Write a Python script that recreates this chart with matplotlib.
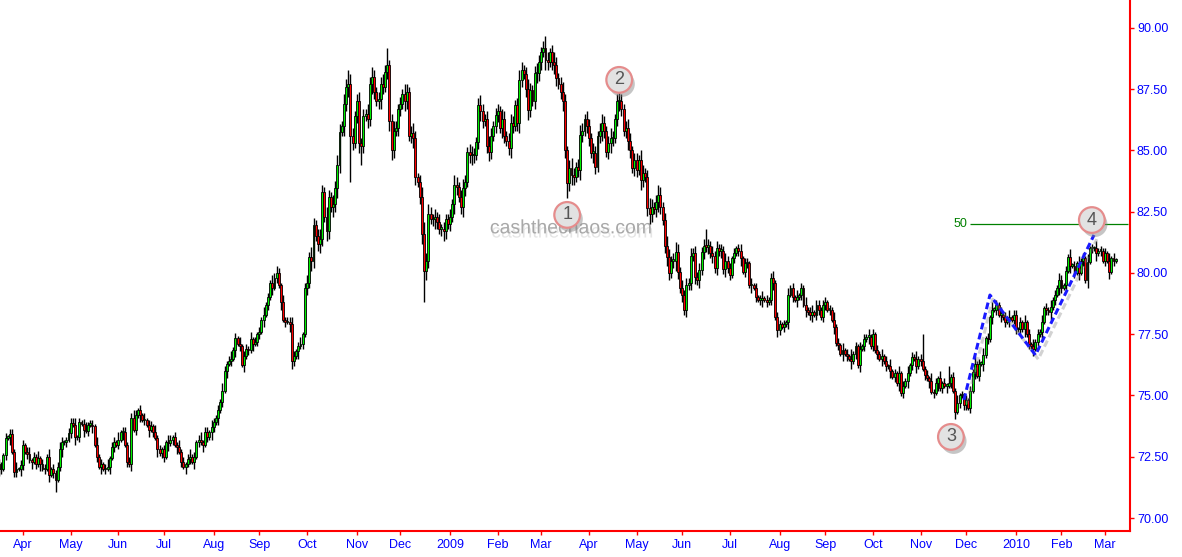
import matplotlib
matplotlib.use('Agg')
import matplotlib.pyplot as plt
import matplotlib.patheffects as pe
import numpy as np
import pandas as pd

# daily bars, US dollar index
start_date = '2008-03-17'
first_open = 72.2

closes = [
    # Mar 2008
    72.0, 72.0, 72.57, 73.27, 73.3, 73.43, 72.7, 71.88, 72.0, 72.0, 72.16,
    # Apr
    72.98, 72.7, 72.6, 72.36, 72.3, 72.5, 72.2, 72.45, 72.2, 72.0, 72.0,
    72.5, 71.76, 72.0, 71.85, 71.55, 72.1, 72.8, 73.1, 73.1, 73.2, 73.47,
    # May
    73.88, 73.8, 73.3, 73.3, 73.9, 73.85, 73.6, 73.55, 73.8, 73.8, 73.75,
    73.0, 72.5, 72.1, 72.2, 72.0, 72.0, 72.1, 72.45, 72.9, 73.1, 73.0,
    # Jun
    73.2, 73.5, 73.5, 73.0, 72.3, 72.2, 74.1, 73.6, 74.2, 74.4, 74.2,
    74.0, 74.0, 73.8, 73.6, 73.75, 73.5, 73.27, 72.8, 72.65, 72.8,
    # Jul
    72.5, 73.1, 73.05, 73.2, 73.3, 73.0, 72.9, 72.7, 72.3, 72.1, 72.2, 72.4,
    72.5, 72.3, 72.5, 73.1, 73.2, 73.1, 73.0, 73.5, 73.3, 73.5, 73.7,
    # Aug
    73.9, 74.1, 74.4, 74.75, 75.2, 76.0, 76.3, 76.4, 76.5, 76.86, 77.33,
    77.1, 77.0, 76.25, 76.6, 76.9, 76.85, 77.3, 77.1, 77.2, 77.5,
    # Sep
    77.6, 78.1, 78.3, 78.7, 79.0, 79.6, 79.4, 79.8, 80.0, 79.5, 78.8,
    78.1, 78.0, 78.0, 77.9, 76.4, 76.6, 76.8, 77.0, 77.1, 77.5, 79.4,
    # Oct
    79.6, 80.66, 80.5, 81.96, 81.5, 81.2, 81.4, 83.3, 82.3, 81.7, 83.1, 82.7,
    82.8, 83.45, 84.4, 85.77, 86.0, 86.9, 87.6, 87.7, 85.6, 85.3, 86.4,
    # Nov
    87.0, 85.3, 85.2, 86.4, 86.5, 86.3, 87.7, 88.0, 87.4, 87.0,
    87.1, 87.7, 87.6, 88.2, 88.5, 86.2, 85.0, 85.8, 85.9, 86.7,
    # Dec
    86.9, 87.3, 87.0, 87.4, 85.6, 85.7, 85.5, 83.9, 83.7, 83.1, 81.6, 80.1,
    80.5, 82.4, 82.2, 82.2, 82.3, 82.1, 81.8, 81.8, 81.7, 82.2, 82.0,
    # Jan 2009
    82.3, 82.8, 83.6, 83.5, 83.1, 82.7, 83.45, 83.7, 84.95, 84.8, 84.8,
    84.8, 85.36, 86.86, 86.6, 86.2, 86.3, 85.2, 84.95, 85.6, 86.0, 86.45,
    # Feb
    86.6, 85.9, 86.3, 85.6, 85.4, 85.1, 86.1, 86.0, 86.86, 86.1,
    87.88, 88.3, 88.1, 87.5, 86.65, 87.47, 87.0, 88.15, 88.15, 88.6,
    # Mar
    89.03, 89.17, 88.7, 88.6, 89.0, 88.6, 88.5, 87.95, 87.7, 87.4, 87.0,
    85.0, 83.66, 84.3, 84.0, 83.9, 84.34, 84.2, 85.63, 85.8, 86.3, 86.0,
    # Apr
    85.5, 84.9, 84.9, 84.34, 85.6, 85.8, 86.1, 85.8, 84.95, 85.3, 85.5,
    85.5, 86.3, 87.0, 87.0, 86.7, 85.8, 85.9, 85.4, 85.0, 84.27, 84.6,
    # May
    84.2, 84.6, 83.8, 84.1, 83.9, 82.64, 82.4, 82.7, 82.6, 82.9, 83.2,
    82.7, 82.16, 81.1, 80.67, 80.0, 80.5, 80.5, 80.87, 80.05, 79.4,
    # Jun
    79.1, 78.5, 79.5, 79.6, 80.7, 80.8, 79.85, 79.7, 80.12, 80.87, 81.1,
    81.07, 81.1, 80.8, 80.7, 80.2, 81.0, 80.9, 80.9, 80.15, 80.5, 80.2,
    # Jul
    79.9, 80.6, 80.8, 81.0, 80.9, 80.6, 80.05, 80.4, 80.4, 79.5, 79.5, 79.4,
    79.0, 78.9, 78.9, 78.95, 78.9, 78.8, 78.9, 79.78, 79.6, 78.2, 77.67,
    # Aug
    77.9, 77.8, 77.9, 78.0, 79.1, 79.4, 79.0, 78.9, 79.0, 79.1, 79.4,
    78.7, 78.5, 78.4, 78.3, 78.4, 78.3, 78.7, 78.5, 78.2, 78.7,
    # Sep
    78.8, 78.5, 78.5, 78.1, 77.8, 77.13, 77.05, 76.7, 76.85, 76.7, 76.6,
    76.5, 76.4, 76.7, 77.0, 76.24, 76.9, 77.0, 77.3, 77.4, 77.4, 77.0,
    # Oct
    77.5, 76.85, 76.7, 76.5, 76.6, 76.4, 76.2, 76.2, 76.0, 75.77, 75.9,
    75.5, 75.9, 75.09, 75.4, 75.6, 75.9, 76.24, 76.58, 76.5, 76.2, 76.5,
    # Nov
    76.4, 76.1, 75.84, 75.7, 75.6, 75.16, 75.1, 75.5, 75.7, 75.3, 75.5,
    75.4, 75.4, 75.5, 75.77, 75.2, 74.34, 74.7, 75.0, 75.0, 74.6,
    # Dec
    74.8, 74.5, 75.2, 75.97, 76.3, 75.8, 76.3, 76.3, 76.65, 77.33, 77.3, 78.2,
    78.5, 78.5, 78.7, 78.3, 78.3, 78.2, 78.0, 78.1, 78.2, 78.1, 78.3,
    # Jan 2010
    77.7, 77.7, 78.0, 77.7, 78.0, 77.5, 77.1, 77.0, 76.9, 77.2, 77.5,
    77.6, 78.0, 78.56, 78.5, 78.4, 78.6, 78.9, 79.1, 79.4, 79.7,
    # Feb
    79.4, 79.5, 80.1, 80.67, 80.3, 80.3, 80.0, 80.4, 80.0, 80.5,
    80.6, 79.7, 80.46, 81.0, 81.0, 81.0, 80.8, 80.9, 80.9, 80.5,
    # Mar
    80.8, 80.5, 80.05, 80.6, 80.5, 80.5,
]

# wick lengths beyond the body, in tenths of a point (base-36 digits), one string per month
up_wick = [
    "23121221312",
    "2123121312213121232112", "2231212312213121231221", "312212232121312213121",
    "21321213121231212312213", "212132123121312213121", "2131213232131223212312",
    "32432343243243432436432", "34232434323343723432", "32432343234534323232322",
    "3243234323432343234323", "32432343234323432343", "2353234323432343234323",
    "3243234323432343234323", "324323432343234323432", "3232323232373232323232",
    "21212312213121231212312", "212131213121312312212", "2121312131214121312131",
    "2121312131213121312131", "2b1213121312171213121", "21213121312131213121312",
    "212131213121312131213", "21213121312131213121", "213121",
]
dn_wick = [
    "32121312213",
    "2121312131213125123121", "2131213121312131213121", "213121312131213121312",
    "21312131213121312131213", "213121312131213121312", "2131213121312133213121",
    "32432343243243432434j32", "34832434323432344323", "32432343234d43234323432",
    "3243234323432343234323", "32432343234323432343", "3243234323436343234323",
    "3243234323432343234323", "324323432343234323432", "3232323232323232323232",
    "21212312213121231212313", "212131213121312312212", "2121312131213121312131",
    "2121312131213121312131", "212131213121312131212", "21213121312131213121312",
    "212131213121312131213", "21213121312131213121", "213121",
]

# wave count labels and the blue swing lines
wave_labels = ['1', '2', '3', '4']
wave_dates = ['2009-03-18', '2009-04-21', '2009-11-20', '2010-02-19']
wave_prices = [82.37, 87.88, 73.31, 82.16]
swing_dates = ['2009-11-30', '2009-12-16', '2010-01-14', '2010-02-22']
swing_prices = [74.82, 79.1, 76.65, 81.55]
fib_level = 82.0
fib_text = '50'
fib_start = '2009-12-03'
watermark = 'cashthechaos.com'
watermark_date = '2009-03-20'
watermark_price = 81.8

n = len(closes)
dates = pd.bdate_range(start_date, periods=n)
c = np.array(closes)
o = np.r_[first_open, c[:-1]]
uw = np.array([int(ch, 36) for ch in ''.join(up_wick)])[:n] / 10
dw = np.array([int(ch, 36) for ch in ''.join(dn_wick)])[:n] / 10
h = np.maximum(o, c) + uw
l = np.minimum(o, c) - dw
x = np.arange(n)

fig = plt.figure(figsize=(11.82, 5.57), dpi=100)
ax = fig.add_axes([0, 26 / 557, 1130 / 1182, 531 / 557])

ax.vlines(x, l, h, color='black', lw=1.0, zorder=2)
body = np.maximum(np.abs(c - o), 0.06)
bottom = np.minimum(o, c)
up = c >= o
ax.bar(x[up], body[up], bottom=bottom[up], width=0.9, color='#00f000',
       edgecolor='black', lw=0.6, zorder=3)
ax.bar(x[~up], body[~up], bottom=bottom[~up], width=0.9, color='#ff0000',
       edgecolor='black', lw=0.6, zorder=3)

ax.set_xlim(0.4, 521.6)
ax.set_ylim(69.47, 91.14)

# month ticks, skipping the partial first month
new_month = np.r_[True, dates.month[1:] != dates.month[:-1]]
tick_idx = np.flatnonzero(new_month)[1:]
tick_lab = [str(d.year) if d.month == 1 else d.strftime('%b') for d in dates[tick_idx]]
ax.set_xticks(tick_idx)
ax.set_xticklabels(tick_lab)

yt = np.arange(70, 90.01, 2.5)
ax.yaxis.tick_right()
ax.set_yticks(yt)
ax.set_yticklabels(['%.2f' % v for v in yt])

ax.tick_params(axis='both', colors='red', labelcolor='blue', length=3, width=1,
               labelsize=9, direction='out')
ax.tick_params(axis='y', pad=2)
ax.tick_params(axis='x', pad=3)
for lab in ax.get_xticklabels() + ax.get_yticklabels():
    lab.set_family('Liberation Sans')

for s in ['top', 'left']:
    ax.spines[s].set_visible(False)
for s in ['right', 'bottom']:
    ax.spines[s].set_color('red')
    ax.spines[s].set_linewidth(1.5)

# 50% retracement line
fs = dates.get_loc(pd.Timestamp(fib_start))
ax.hlines(fib_level, fs, 520.5, color='green', lw=0.9, zorder=4)
ax.annotate(fib_text, (fs, fib_level), xytext=(-2, 0), textcoords='offset points',
            ha='right', va='center', color='green', fontsize=9, family='Liberation Sans')

# blue dashed swings
sx = [dates.get_loc(pd.Timestamp(d)) for d in swing_dates]
ax.plot(sx, swing_prices, color='#1a1aff', lw=2.2, ls=(0, (2.2, 1.2)), zorder=5,
        path_effects=[pe.SimpleLineShadow(offset=(2, -3), shadow_color='gray', alpha=0.35),
                      pe.Normal()])

# circled wave numbers
wx = [dates.get_loc(pd.Timestamp(d)) for d in wave_dates]
ax.plot(wx, wave_prices, 'o', ms=18.5, mfc='#e2e2e2', mec='#e58c8c', mew=1.6, zorder=6,
        path_effects=[pe.SimplePatchShadow(offset=(2, -3), shadow_rgbFace='gray', alpha=0.45),
                      pe.Normal()])
for t, xi, yi in zip(wave_labels, wx, wave_prices):
    ax.text(xi, yi, t, ha='center', va='center', fontsize=13, color='#555555',
            family='Liberation Sans', zorder=7)

# watermark
wmx = dates.get_loc(pd.Timestamp(watermark_date))
ax.text(wmx, watermark_price, watermark, ha='center', va='center', fontsize=14,
        color='#a8a8a8', family='Liberation Sans', zorder=1,
        path_effects=[pe.withSimplePatchShadow(offset=(1, -3), shadow_rgbFace='gray', alpha=0.2)])

fig.savefig('out.png', dpi=100)
